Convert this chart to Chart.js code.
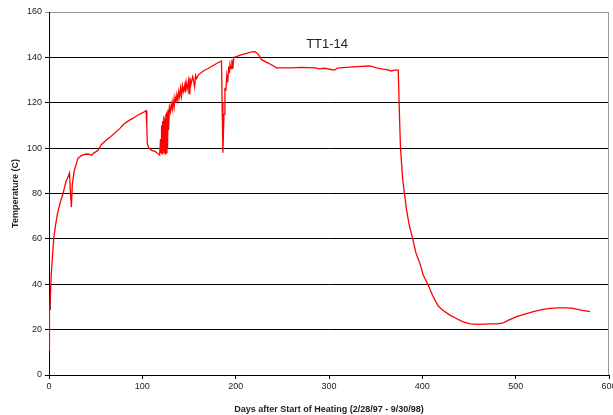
<!DOCTYPE html>
<html>
<head>
<meta charset="utf-8">
<script src="https://cdn.jsdelivr.net/npm/chart.js@4.4.0/dist/chart.umd.min.js"></script>
<style>
  html, body { margin: 0; padding: 0; background: #fff; }
  #wrap { width: 613px; height: 415px; }
</style>
</head>
<body>
<div id="wrap"><canvas id="tempChart" width="613" height="415"></canvas></div>
<script>
// Thermocouple TT1-14 record, days vs temperature
const days = [
  0, 0.5, 1.5, 2.5, 5, 7, 9, 12, 15, 18, 22, 23, 24, 25, 27, 31, 35, 40, 43, 45.5,
  48, 52.5, 56, 61.5, 66, 70, 76, 80, 85, 90, 95, 100, 104, 104.8, 105.3, 107, 110, 114, 118.5, 119.5,
  120, 120.6, 121.2, 121.8, 122.4, 123, 123.5, 124, 124.6, 125.2, 125.8, 126.4, 127, 127.5, 128.2, 129, 130, 131, 132, 133,
  134, 135, 136, 137, 138, 139, 140, 141, 142, 143, 144, 145.5, 146, 147, 148, 149.5, 150, 151, 152, 154,
  156, 157, 158, 160, 163, 166, 170, 175, 180, 184.8, 185.5, 186.3, 187.5, 188.5, 189.5, 190.5, 191.5, 192.5, 193.2, 194,
  195, 196, 197, 198, 200.8, 205, 211.7, 216, 220.5, 224, 227.7, 235, 243.8, 260, 270, 285, 290, 295, 306, 309,
  315, 330, 343.8, 350, 356, 362, 367, 370, 374.2, 375.1, 376.6, 379, 383, 386, 389.6, 393, 397.4, 401, 406.3,
  411, 417, 422, 429.5, 436, 443, 451, 460, 472.5, 480, 486.7, 493, 501, 510, 519, 528, 536.8, 545, 554.6, 561.7,
  570, 579.6
];
const temps = [
  11, 28, 35, 45, 60, 66, 71, 76, 80, 85, 89, 80, 74, 84, 90, 95.5, 96.8, 97.4, 97.3, 96.8,
  97.8, 99, 101.5, 103.6, 105, 106.5, 108.7, 110.5, 112, 113.2, 114.5, 115.5, 116.5, 110, 102, 100, 99, 98.5, 97, 104,
  98, 110, 97.5, 112, 99, 114, 98, 113, 97.5, 115, 98, 116, 100, 117, 108, 118, 116, 119.5, 117, 121,
  118, 122.5, 120, 123.6, 121, 125, 122.5, 126.5, 123, 127.5, 125, 128, 124.5, 129, 126, 129.7, 124, 131, 128, 131.5,
  127, 132, 130.7, 132.3, 133.2, 134.2, 135, 136.2, 137.4, 138.4, 120, 98, 115, 126, 125.6, 132, 129, 136, 133, 137,
  135, 139, 135, 140, 140.3, 141, 141.8, 142.3, 142.5, 141.5, 139, 137.5, 135.4, 135.4, 135.6, 135.4, 134.9, 135.2, 134.4, 135.3,
  135.5, 135.9, 136.2, 135.5, 134.9, 134.6, 134, 134.4, 134.4, 120, 100, 86, 73, 66, 60.2, 54, 49.2, 44, 39.7,
  35, 30.4, 28.5, 26.4, 25, 23.5, 22.5, 22.3, 22.5, 22.5, 23, 24.3, 25.7, 26.8, 27.9, 28.8, 29.4, 29.6, 29.6, 29.4,
  28.6, 27.9
];
// short dark trace near the start
const startDays = [0.8, 1.0];
const startTemps = [29, 35];

const xTicks = [0, 100, 200, 300, 400, 500, 600];
const yTicks = [0, 20, 40, 60, 80, 100, 120, 140, 160];
const seriesName = 'TT1-14';

const toPoints = (xs, ys) => xs.map((x, i) => ({ x: x, y: ys[i] }));

// right frame line and the series name inside the plot
const framePlugin = {
  id: 'frame',
  afterDraw(chart) {
    const { ctx, chartArea, scales } = chart;
    ctx.save();
    ctx.strokeStyle = '#9a9a9a';
    ctx.lineWidth = 1;
    ctx.beginPath();
    ctx.moveTo(chartArea.right - 0.5, chartArea.top);
    ctx.lineTo(chartArea.right - 0.5, chartArea.bottom);
    ctx.stroke();
    ctx.fillStyle = '#222';
    ctx.font = '13px "Liberation Sans", Arial, sans-serif';
    ctx.textAlign = 'center';
    ctx.textBaseline = 'middle';
    ctx.fillText(seriesName, scales.x.getPixelForValue(298), scales.y.getPixelForValue(145.8));
    ctx.restore();
  }
};

const tickFont = { family: '"Liberation Sans", Arial, sans-serif', size: 9 };
const titleFont = { family: '"Liberation Sans", Arial, sans-serif', size: 9, weight: 'bold' };

new Chart(document.getElementById('tempChart').getContext('2d'), {
  type: 'line',
  data: {
    datasets: [{
      label: seriesName,
      data: toPoints(days, temps),
      borderColor: '#ff0000',
      borderWidth: 1.3,
      pointRadius: 0,
      tension: 0,
      fill: false
    }, {
      label: 'start',
      data: toPoints(startDays, startTemps),
      borderColor: '#000',
      borderWidth: 1.5,
      pointRadius: 0,
      fill: false
    }]
  },
  options: {
    responsive: false,
    animation: false,
    layout: { padding: { top: 12, right: 4, left: 0, bottom: 0 } },
    plugins: {
      legend: { display: false },
      tooltip: { enabled: false }
    },
    scales: {
      x: {
        type: 'linear',
        min: 0,
        max: 600,
        afterBuildTicks: (scale) => { scale.ticks = xTicks.map(v => ({ value: v })); },
        afterFit: (scale) => {
          scale.height = 40;
          // let the last label run past the edge instead of shrinking the plot
          scale.paddingRight = 0;
          scale.paddingLeft = 0;
        },
        ticks: { color: '#222', font: tickFont, padding: 2, maxRotation: 0 },
        grid: { drawOnChartArea: false, drawTicks: true, tickLength: 4, color: '#000' },
        border: { color: '#000', width: 1 },
        title: {
          display: true,
          text: 'Days after Start of Heating (2/28/97 - 9/30/98)',
          color: '#222',
          font: titleFont,
          padding: { top: 8, bottom: 0 }
        }
      },
      y: {
        min: 0,
        max: 160,
        afterBuildTicks: (scale) => { scale.ticks = yTicks.map(v => ({ value: v })); },
        afterFit: (scale) => {
          scale.width = 49;
          scale.paddingTop = 0;
          scale.paddingBottom = 0;
        },
        ticks: { color: '#222', font: tickFont, padding: 3 },
        grid: {
          color: (c) => (c.tick && c.tick.value === 160 ? '#9a9a9a' : '#000'),
          lineWidth: 1,
          tickLength: 4
        },
        border: { color: '#000', width: 1 },
        title: {
          display: true,
          text: 'Temperature (C)',
          color: '#222',
          font: titleFont,
          padding: { top: 10, bottom: 0 }
        }
      }
    }
  },
  plugins: [framePlugin]
});
</script>
</body>
</html>
